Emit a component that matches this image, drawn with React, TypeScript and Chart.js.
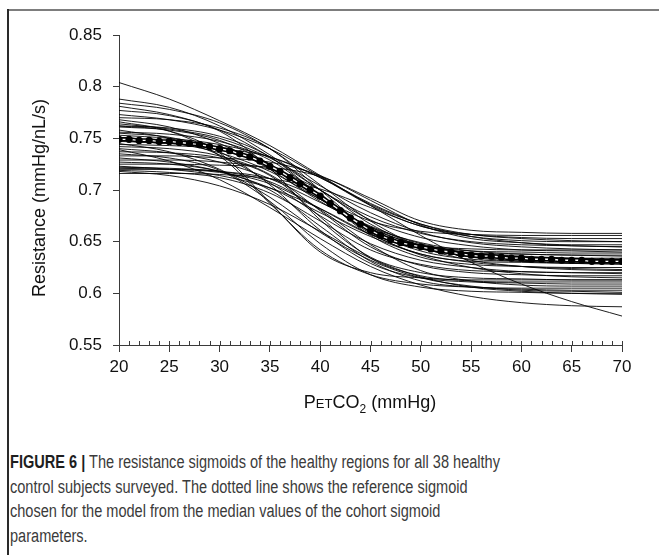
import React, { useEffect, useLayoutEffect, useRef } from "react";
import { Chart, registerables } from "chart.js";

Chart.register(...registerables);

// ---------- data ----------
const X_VALUES = [20, 25, 30, 35, 40, 45, 50, 55, 60, 65, 70];
const X_TICKS = [20, 25, 30, 35, 40, 45, 50, 55, 60, 65, 70];
const Y_TICKS = [0.55, 0.6, 0.65, 0.7, 0.75, 0.8, 0.85];

const S01 = [0.804, 0.788, 0.767, 0.743, 0.714, 0.685, 0.656, 0.630, 0.609, 0.592, 0.578];
const S02 = [0.788, 0.780, 0.762, 0.734, 0.700, 0.671, 0.654, 0.646, 0.642, 0.641, 0.640];
const S03 = [0.784, 0.778, 0.765, 0.740, 0.705, 0.670, 0.645, 0.632, 0.626, 0.623, 0.622];
const S04 = [0.781, 0.773, 0.758, 0.732, 0.700, 0.674, 0.658, 0.650, 0.647, 0.646, 0.645];
const S05 = [0.777, 0.772, 0.757, 0.721, 0.671, 0.635, 0.620, 0.615, 0.614, 0.613, 0.613];
const S06 = [0.773, 0.768, 0.758, 0.740, 0.713, 0.686, 0.667, 0.657, 0.653, 0.651, 0.650];
const S07 = [0.770, 0.768, 0.760, 0.740, 0.700, 0.661, 0.641, 0.633, 0.631, 0.630, 0.630];
const S08 = [0.768, 0.761, 0.745, 0.720, 0.689, 0.664, 0.649, 0.641, 0.638, 0.637, 0.636];
const S09 = [0.766, 0.757, 0.733, 0.687, 0.642, 0.618, 0.609, 0.606, 0.605, 0.605, 0.605];
const S10 = [0.764, 0.759, 0.750, 0.731, 0.704, 0.678, 0.659, 0.649, 0.645, 0.643, 0.642];
const S11 = [0.762, 0.760, 0.752, 0.732, 0.694, 0.656, 0.635, 0.628, 0.626, 0.625, 0.625];
const S12 = [0.761, 0.758, 0.748, 0.725, 0.693, 0.670, 0.660, 0.657, 0.656, 0.656, 0.656];
const S13 = [0.758, 0.750, 0.734, 0.707, 0.675, 0.648, 0.632, 0.625, 0.621, 0.620, 0.619];
const S14 = [0.756, 0.754, 0.747, 0.729, 0.695, 0.661, 0.643, 0.637, 0.635, 0.634, 0.634];
const S15 = [0.755, 0.751, 0.737, 0.705, 0.661, 0.629, 0.615, 0.611, 0.610, 0.609, 0.609];
const S16 = [0.753, 0.750, 0.744, 0.732, 0.712, 0.687, 0.667, 0.655, 0.649, 0.646, 0.645];
const S17 = [0.751, 0.746, 0.736, 0.718, 0.691, 0.664, 0.645, 0.635, 0.631, 0.629, 0.628];
const S18 = [0.747, 0.745, 0.739, 0.723, 0.693, 0.663, 0.647, 0.641, 0.640, 0.639, 0.639];
const S19 = [0.745, 0.737, 0.720, 0.693, 0.659, 0.632, 0.615, 0.607, 0.603, 0.602, 0.601];
const S20 = [0.744, 0.743, 0.740, 0.732, 0.712, 0.685, 0.665, 0.657, 0.654, 0.653, 0.653];
const S21 = [0.742, 0.740, 0.733, 0.715, 0.680, 0.645, 0.627, 0.620, 0.618, 0.617, 0.617];
const S22 = [0.740, 0.736, 0.727, 0.711, 0.688, 0.665, 0.648, 0.639, 0.636, 0.634, 0.633];
const S23 = [0.739, 0.728, 0.710, 0.683, 0.653, 0.626, 0.608, 0.597, 0.591, 0.588, 0.587];
const S24 = [0.737, 0.736, 0.731, 0.714, 0.674, 0.634, 0.617, 0.612, 0.611, 0.611, 0.611];
const S25 = [0.735, 0.731, 0.719, 0.689, 0.648, 0.618, 0.606, 0.602, 0.601, 0.600, 0.600];
const S26 = [0.733, 0.733, 0.731, 0.727, 0.714, 0.690, 0.666, 0.653, 0.649, 0.647, 0.647];
const S27 = [0.731, 0.727, 0.718, 0.702, 0.678, 0.655, 0.638, 0.630, 0.626, 0.624, 0.623];
const S28 = [0.729, 0.729, 0.727, 0.720, 0.700, 0.667, 0.646, 0.639, 0.638, 0.637, 0.637];
const S29 = [0.727, 0.725, 0.718, 0.700, 0.665, 0.631, 0.612, 0.606, 0.604, 0.603, 0.603];
const S30 = [0.725, 0.725, 0.724, 0.722, 0.713, 0.692, 0.670, 0.661, 0.659, 0.658, 0.658];
const S31 = [0.723, 0.720, 0.714, 0.702, 0.682, 0.657, 0.637, 0.625, 0.619, 0.616, 0.615];
const S32 = [0.722, 0.721, 0.718, 0.708, 0.682, 0.657, 0.646, 0.643, 0.642, 0.642, 0.642];
const S33 = [0.721, 0.720, 0.717, 0.706, 0.681, 0.647, 0.622, 0.612, 0.608, 0.607, 0.607];
const S34 = [0.720, 0.720, 0.718, 0.711, 0.691, 0.658, 0.638, 0.631, 0.630, 0.629, 0.629];
const S35 = [0.719, 0.717, 0.712, 0.697, 0.670, 0.642, 0.628, 0.622, 0.621, 0.620, 0.620];
const S36 = [0.718, 0.714, 0.704, 0.686, 0.660, 0.634, 0.616, 0.606, 0.602, 0.600, 0.599];
const S37 = [0.716, 0.716, 0.715, 0.711, 0.701, 0.683, 0.665, 0.655, 0.651, 0.650, 0.650];
const S38 = [0.762, 0.757, 0.736, 0.688, 0.640, 0.620, 0.615, 0.613, 0.613, 0.613, 0.613];

const SUBJECTS = [
  S01, S02, S03, S04, S05, S06, S07, S08, S09, S10,
  S11, S12, S13, S14, S15, S16, S17, S18, S19, S20,
  S21, S22, S23, S24, S25, S26, S27, S28, S29, S30,
  S31, S32, S33, S34, S35, S36, S37, S38,
];

// reference (median) sigmoid, read at every 1 mmHg
const REF_X = [
  20, 21, 22, 23, 24, 25, 26, 27, 28, 29,
  30, 31, 32, 33, 34, 35, 36, 37, 38, 39,
  40, 41, 42, 43, 44, 45, 46, 47, 48, 49,
  50, 51, 52, 53, 54, 55, 56, 57, 58, 59,
  60, 61, 62, 63, 64, 65, 66, 67, 68, 69, 70,
];
const REF_Y = [
  0.749, 0.749, 0.748, 0.748, 0.747, 0.747, 0.746, 0.745, 0.744, 0.742,
  0.740, 0.738, 0.735, 0.732, 0.728, 0.723, 0.718, 0.712, 0.706, 0.700,
  0.694, 0.687, 0.680, 0.673, 0.667, 0.661, 0.656, 0.652, 0.649, 0.647,
  0.645, 0.643, 0.641, 0.640, 0.638, 0.637, 0.636, 0.636, 0.635, 0.634,
  0.634, 0.633, 0.633, 0.633, 0.632, 0.632, 0.632, 0.631, 0.631, 0.631, 0.631,
];

const AXIS_COLOR = "#3a3a3a";
const FONT = "'Liberation Sans', Arial, Helvetica, sans-serif";
const CAPTION_WIDTH = 490;

const minorTicks = {
  id: "minorTicks",
  afterDraw(chart: any) {
    const { ctx, chartArea, scales } = chart;
    const x = scales.x;
    ctx.save();
    ctx.strokeStyle = AXIS_COLOR;
    ctx.lineWidth = 1;
    ctx.beginPath();
    for (let v = X_TICKS[0]; v <= X_TICKS[X_TICKS.length - 1]; v += 1) {
      const px = Math.round(x.getPixelForValue(v)) + 0.5;
      ctx.moveTo(px, chartArea.bottom);
      ctx.lineTo(px, chartArea.bottom - 4);
    }
    ctx.stroke();
    ctx.restore();
  },
};

export default function App() {
  const canvasRef = useRef<HTMLCanvasElement | null>(null);
  const captionRef = useRef<HTMLDivElement | null>(null);
  const firstLineRef = useRef<HTMLSpanElement | null>(null);

  useLayoutEffect(() => {
    const cap = captionRef.current;
    const line = firstLineRef.current;
    if (!cap || !line) return;
    const w = line.getBoundingClientRect().width;
    if (w > 0) cap.style.transform = `scaleX(${CAPTION_WIDTH / w})`;
  }, []);

  useEffect(() => {
    if (!canvasRef.current) return;
    const datasets: any[] = SUBJECTS.map((ys, i) => ({
      label: `Subject ${i + 1}`,
      data: X_VALUES.map((x, j) => ({ x, y: ys[j] })),
      borderColor: "rgba(0,0,0,0.88)",
      borderWidth: 1,
      pointRadius: 0,
      fill: false,
      cubicInterpolationMode: "monotone",
      order: 10,
    }));
    const refData = REF_X.map((x, j) => ({ x, y: REF_Y[j] }));
    datasets.push({
      label: "Reference",
      data: refData,
      borderColor: "#000",
      borderWidth: 4.5,
      pointRadius: 0,
      cubicInterpolationMode: "monotone",
      order: 3,
    });
    datasets.push({
      label: "Reference (inner)",
      data: refData,
      borderColor: "#fff",
      borderWidth: 1.3,
      pointRadius: 0,
      cubicInterpolationMode: "monotone",
      order: 2,
    });
    datasets.push({
      label: "Reference points",
      data: refData,
      showLine: false,
      pointRadius: 3.6,
      pointBackgroundColor: "#000",
      pointBorderWidth: 0,
      order: 1,
    });

    const chart = new Chart(canvasRef.current, {
      type: "line",
      data: { datasets },
      options: {
        animation: false,
        responsive: true,
        maintainAspectRatio: false,
        layout: { padding: { left: 0, right: 37, top: 35, bottom: 0 } },
        plugins: { legend: { display: false }, tooltip: { enabled: false } },
        scales: {
          x: {
            type: "linear",
            min: 20,
            max: 70,
            afterFit: (s: any) => {
              s.height = 75;
            },
            afterBuildTicks: (s: any) => {
              s.ticks = X_TICKS.map((v) => ({ value: v }));
            },
            grid: {
              display: true,
              drawOnChartArea: false,
              drawTicks: true,
              tickLength: 7,
              color: AXIS_COLOR,
            },
            border: { display: true, color: AXIS_COLOR, width: 1 },
            ticks: {
              color: "#111",
              font: { family: FONT, size: 17 },
              padding: 5,
              maxRotation: 0,
              autoSkip: false,
            },
          },
          y: {
            type: "linear",
            min: 0.55,
            max: 0.85,
            afterFit: (s: any) => {
              s.width = 119;
            },
            afterBuildTicks: (s: any) => {
              s.ticks = Y_TICKS.map((v) => ({ value: v }));
            },
            grid: {
              display: true,
              drawOnChartArea: false,
              drawTicks: true,
              tickLength: 6,
              color: AXIS_COLOR,
            },
            border: { display: true, color: AXIS_COLOR, width: 1 },
            ticks: {
              color: "#111",
              font: { family: FONT, size: 17 },
              padding: 11,
              autoSkip: false,
              callback: (v: any) => String(Number(Number(v).toFixed(2))),
            },
          },
        },
      },
      plugins: [minorTicks],
    });
    return () => chart.destroy();
  }, []);

  const capLine: React.CSSProperties = { whiteSpace: "nowrap" };

  return (
    <div
      style={{
        position: "absolute",
        left: 0,
        top: 0,
        width: 659,
        height: 555,
        background: "#fff",
        overflow: "hidden",
      }}
    >
      <div style={{ position: "absolute", left: 7, top: 9, width: 652, height: 2, background: "#7d7d7d" }} />
      <div style={{ position: "absolute", left: 7, top: 9, width: 2, height: 546, background: "#2a2a2a" }} />
      <div style={{ position: "absolute", left: 0, top: 0, width: 659, height: 420 }}>
        <canvas ref={canvasRef} />
      </div>
      <div
        style={{
          position: "absolute",
          left: 39 - 150,
          top: 198 - 11,
          width: 300,
          height: 22,
          lineHeight: "22px",
          textAlign: "center",
          transform: "rotate(-90deg)",
          transformOrigin: "50% 50%",
          fontFamily: FONT,
          fontSize: 18,
          color: "#111",
          whiteSpace: "nowrap",
        }}
      >
        Resistance (mmHg/nL/s)
      </div>
      <div
        style={{
          position: "absolute",
          left: 370 - 150,
          top: 391,
          width: 300,
          lineHeight: "22px",
          textAlign: "center",
          fontFamily: FONT,
          fontSize: 18,
          color: "#111",
          whiteSpace: "nowrap",
        }}
      >
        P<span style={{ fontSize: 13 }}>ET</span>CO<sub style={{ fontSize: 12, lineHeight: 0 }}>2</sub> (mmHg)
      </div>
      <div
        ref={captionRef}
        style={{
          position: "absolute",
          left: 10,
          top: 450,
          fontFamily: FONT,
          fontSize: 18,
          lineHeight: "24.5px",
          color: "#3b3b3b",
          transformOrigin: "0 0",
        }}
      >
        <div style={capLine}>
          <span ref={firstLineRef} style={{ display: "inline-block" }}>
            <b style={{ color: "#1e1e1e" }}>FIGURE 6 |</b> The resistance sigmoids of the healthy regions for all 38 healthy
          </span>
        </div>
        <div style={capLine}>control subjects surveyed. The dotted line shows the reference sigmoid</div>
        <div style={capLine}>chosen for the model from the median values of the cohort sigmoid</div>
        <div style={capLine}>parameters.</div>
      </div>
    </div>
  );
}
